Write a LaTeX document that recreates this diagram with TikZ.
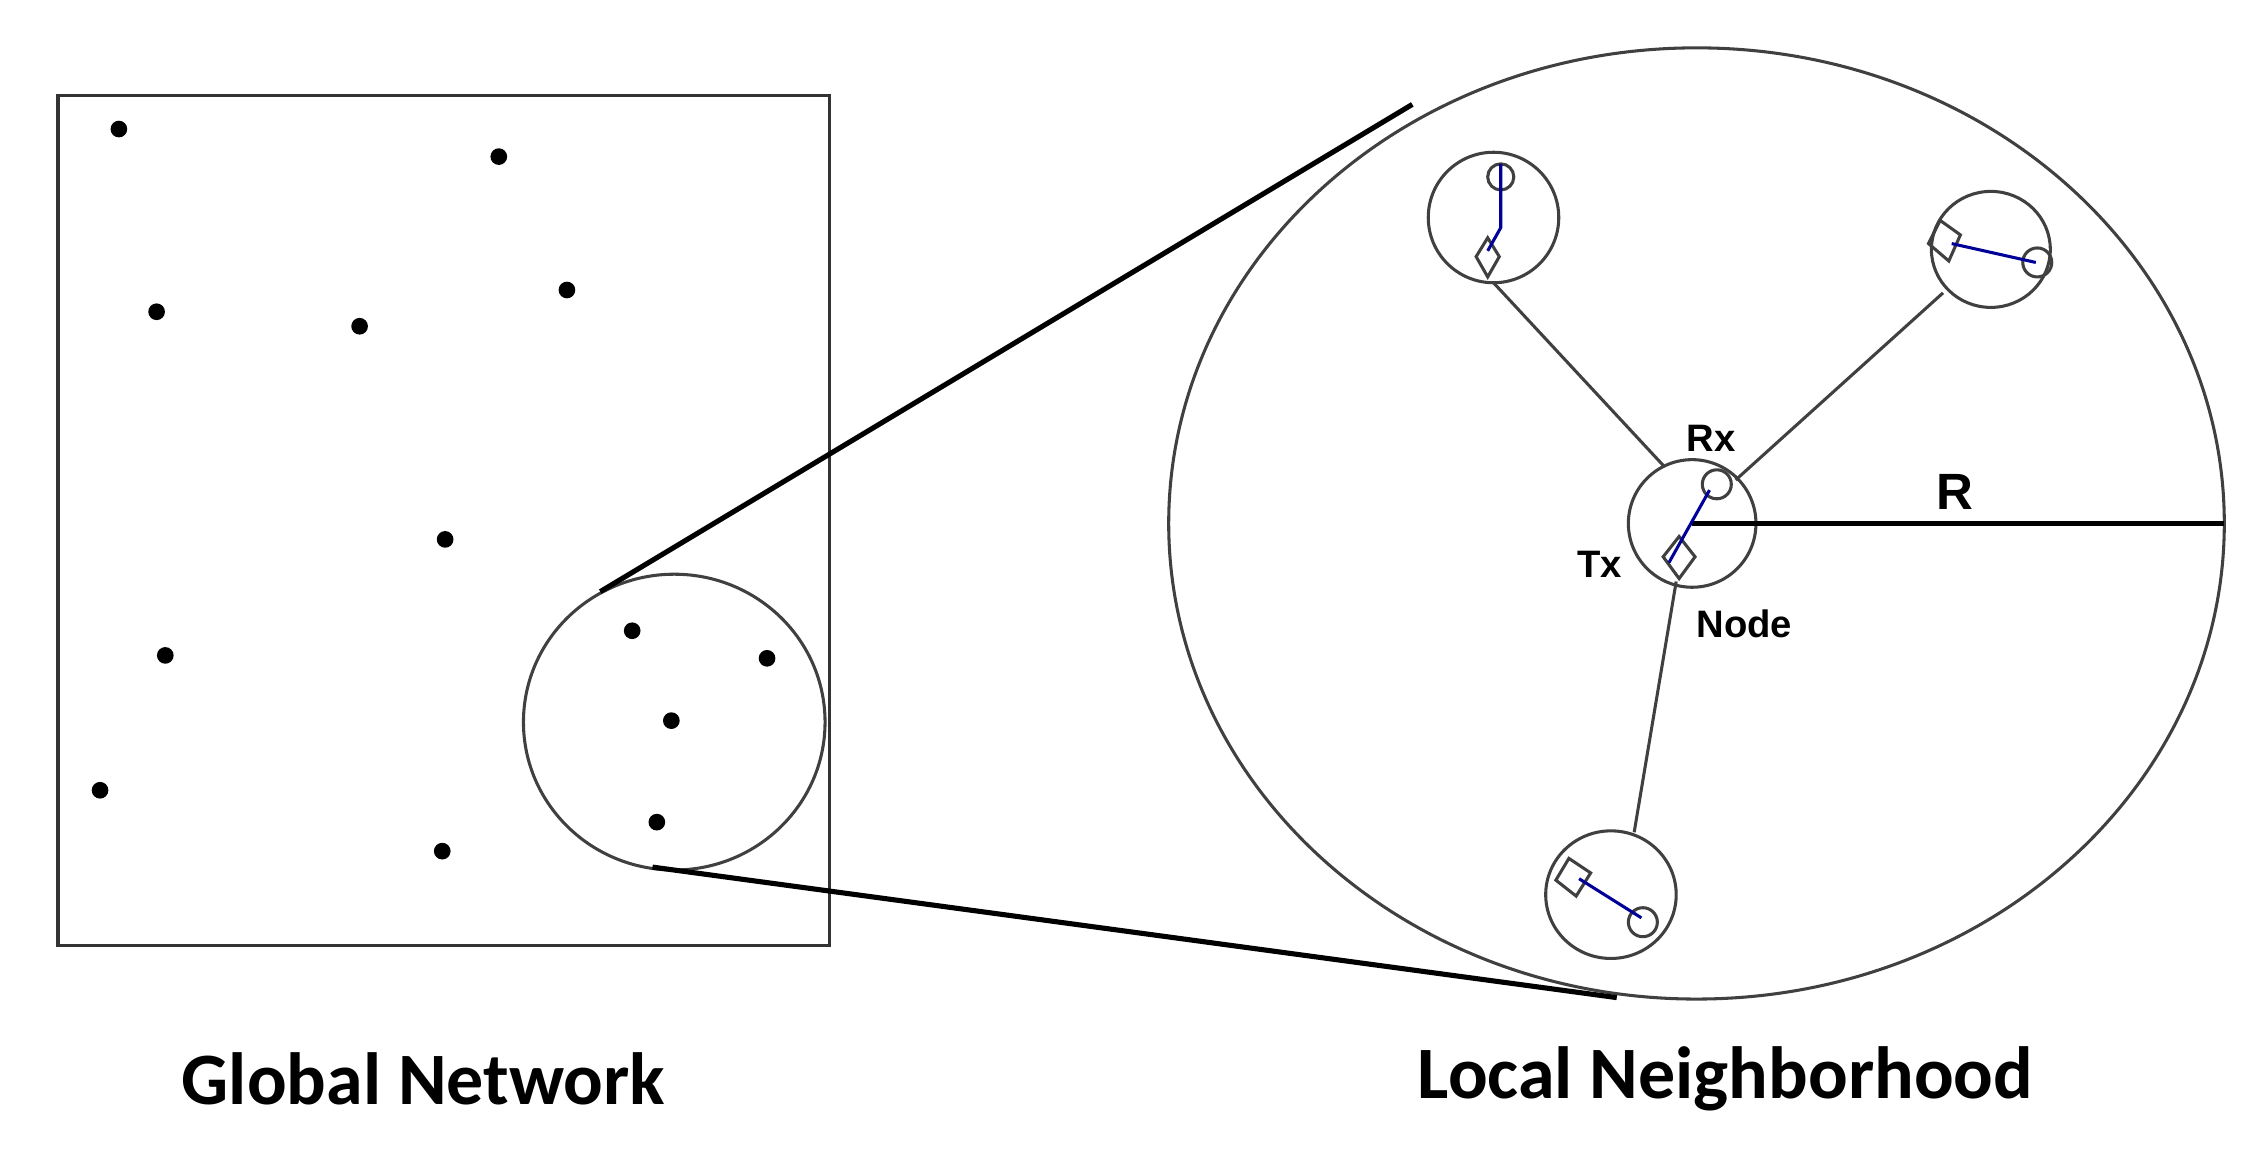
\documentclass[tikz,border=0pt]{standalone}
\usepackage{fontspec}
\setmainfont{Carlito}
\newfontfamily\arialf{Liberation Sans}
\begin{document}
\begin{tikzpicture}[x=0.01cm,y=-0.01cm,
  dot/.style={circle,fill=black,inner sep=0pt,minimum size=0.115cm},
  thinl/.style={draw=black!75,line width=0.6pt},
  zoom/.style={draw=black,line width=1pt},
  blu/.style={draw=blue!60!black,line width=0.6pt},
  lbl/.style={font=\arialf\bfseries\fontsize{7.5}{8}\selectfont,inner sep=0pt},
  captxt/.style={font=\bfseries\fontsize{14.5}{16}\selectfont,inner sep=0pt}]
\useasboundingbox (0,0) rectangle (1560,806);
\draw[draw=black!80,line width=0.6pt] (40,66) rectangle (572,652);
\foreach \p [count=\i] in {(82,89),(344,108),(108,215),(248,225),(391,200),(307,372),(114,452),(436,435),(529,454),(463,497),(69,545),(453,567),(305,587)}
  \node[dot] (d\i) at \p {};
\draw[thinl] (465,498) ellipse [x radius=104,y radius=102];
\draw[thinl] (1170,361) ellipse [x radius=364,y radius=328];
\coordinate (s1) at (414,408); \coordinate (b1) at (974,72);
\coordinate (s2) at (450,598); \coordinate (b2) at (1115,688);
\draw[zoom] (s1) -- (b1);
\draw[zoom] (s2) -- (b2);
% central node
\draw[thinl] (1167,361) circle (44);
\coordinate (c) at (1167,361); \coordinate (Redge) at (1534,361);
\draw[line width=1.1pt] (c) -- (Redge);
\node[font=\arialf\bfseries\fontsize{10}{11}\selectfont,inner sep=0pt] (R) at (1348,339) {R};
\draw[thinl] (1184,334) circle (10);
\draw[thinl] (1158,370) -- (1169,384) -- (1158,399) -- (1147,384) -- cycle;
\draw[blu] (1151,388) -- (1179,338);
\node[lbl] (rx) at (1180,302) {Rx};
\node[lbl] (tx) at (1103,389) {Tx};
\node[lbl] (nd) at (1203,430) {Node};
% neighbours
\draw[thinl] (1030,150) circle (45);
\draw[thinl] (1035,122) circle (9);
\draw[thinl] (1026,164) -- (1034,177) -- (1026,191) -- (1018,177) -- cycle;
\draw[blu] (1035,113) -- (1035,157) -- (1026,173);
\draw[thinl] (1373,172) ellipse [x radius=41,y radius=40];
\draw[thinl] (1405,181) circle (10);
\draw[thinl] (1338,152) -- (1352,162) -- (1344,180) -- (1330,168) -- cycle;
\draw[blu] (1346,168) -- (1404,181);
\draw[thinl] (1111,617) ellipse [x radius=45,y radius=44];
\draw[thinl] (1133,636) circle (10);
\draw[thinl] (1082,592) -- (1097,602) -- (1087,618) -- (1073,607) -- cycle;
\draw[blu] (1089,606) -- (1132,633);
% links
\draw[thinl] (1030,195) -- (1148,322);
\draw[thinl] (1340,202) -- (1197,331);
\draw[thinl] (1156,401) -- (1127,574);
\node[captxt] (g) at (292,744) {Global Network};
\node[captxt] (l) at (1190,744) {Local Neighborhood};
\end{tikzpicture}
\end{document}
